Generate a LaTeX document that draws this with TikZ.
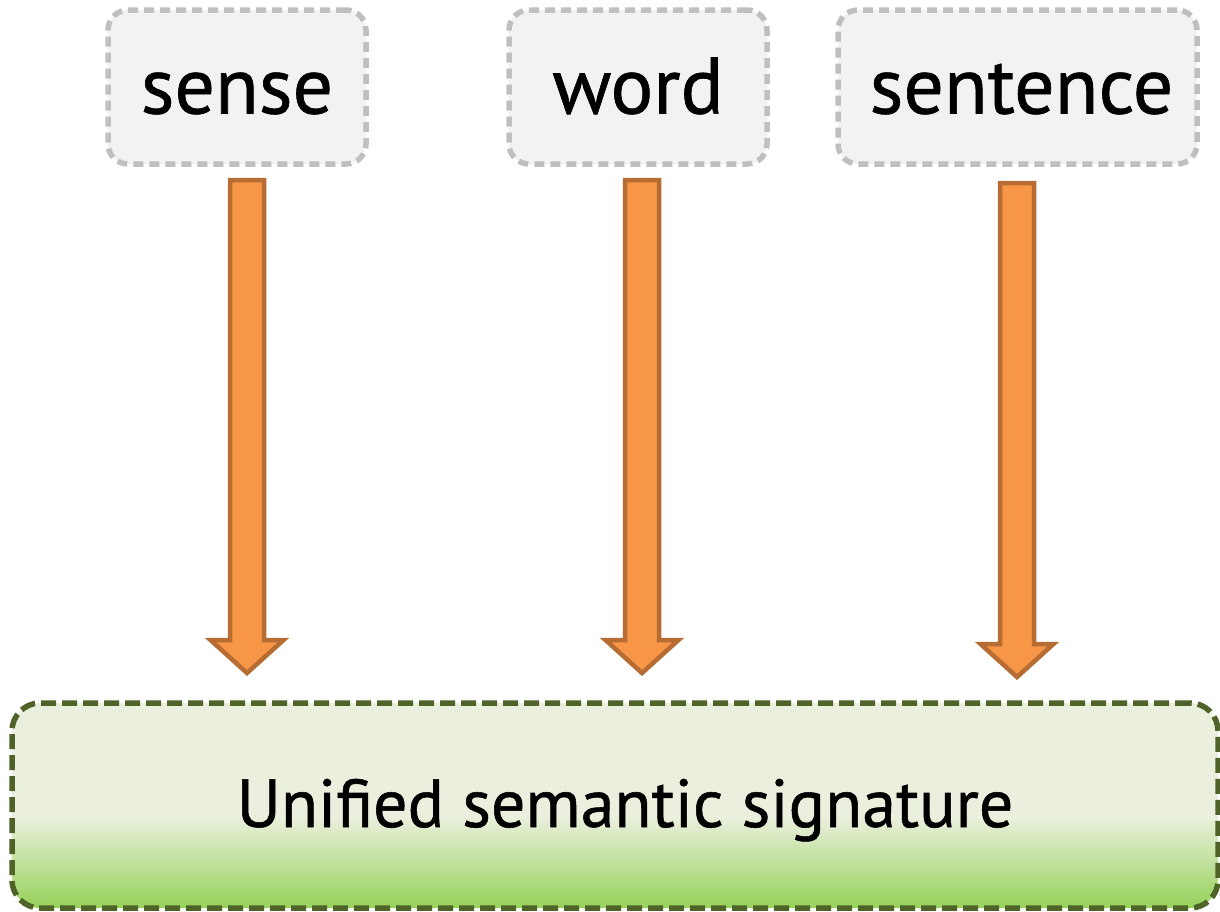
\documentclass[tikz,border=0pt]{standalone}
\usepackage{fontspec}
\setmainfont{PT Sans}[FakeBold=0.8]
\usetikzlibrary{calc}
\definecolor{BoxFill}{RGB}{242,242,242}
\definecolor{BoxLine}{RGB}{191,191,191}
\definecolor{ArrowFill}{RGB}{247,150,70}
\definecolor{ArrowLine}{RGB}{182,108,50}
\definecolor{SigLine}{RGB}{79,98,40}
\definecolor{SigTop}{RGB}{235,240,222}
\definecolor{SigBottom}{RGB}{150,210,90}
\pgfdeclareverticalshading{sigshade}{100bp}{color(0bp)=(SigBottom); color(25bp)=(SigBottom);
  color(47.5bp)=(SigTop); color(100bp)=(SigTop)}

% block arrow from a top coordinate down to its tip
\newcommand{\BlockArrow}[2]{%
  \draw[blockarrow] ($(#1)+(-17,0)$) -- ($(#1)+(17,0)$) -- ($(#2)+(17,-33)$)
    -- ($(#2)+(36.5,-33)$) -- (#2) -- ($(#2)+(-36.5,-33)$) -- ($(#2)+(-17,-33)$) -- cycle;}

\begin{document}
\begin{tikzpicture}[x=1pt,y=-1pt,
  levelbox/.style={draw=BoxLine,fill=BoxFill,line width=5.5pt,dash pattern=on 10pt off 6pt,
    rounded corners=20pt,minimum height=154pt,text height=58pt,text depth=5pt,
    font=\fontsize{80}{84}\selectfont},
  blockarrow/.style={draw=ArrowLine,fill=ArrowFill,line width=4.5pt,line join=miter},
  sigbox/.style={draw=SigLine,line width=5.5pt,dash pattern=on 15pt off 6pt,
    rounded corners=28pt,minimum width=1206pt,minimum height=205pt,shading=sigshade},
  sigtext/.style={anchor=base,font=\fontsize{68}{72}\selectfont}]
\useasboundingbox (0,0) rectangle (1220,911);

\node[levelbox,minimum width=258pt] (sense) at (237,87) {sense};
\node[levelbox,minimum width=258pt] (word) at (638,87) {word};
\node[levelbox,minimum width=359pt] (sentence) at (1017.5,87) {\hspace*{8pt}sentence};

\node[sigbox] (sig) at (615,805.5) {};
\node[sigtext] (sigtext) at (625,827) {Unified semantic signature};

\coordinate (senseTop) at (247,180); \coordinate (senseTip) at (247,673);
\coordinate (wordTop) at (642,180); \coordinate (wordTip) at (642,673);
\coordinate (sentenceTop) at (1017,183); \coordinate (sentenceTip) at (1017,677);

\BlockArrow{senseTop}{senseTip}
\BlockArrow{wordTop}{wordTip}
\BlockArrow{sentenceTop}{sentenceTip}

\end{tikzpicture}
\end{document}
